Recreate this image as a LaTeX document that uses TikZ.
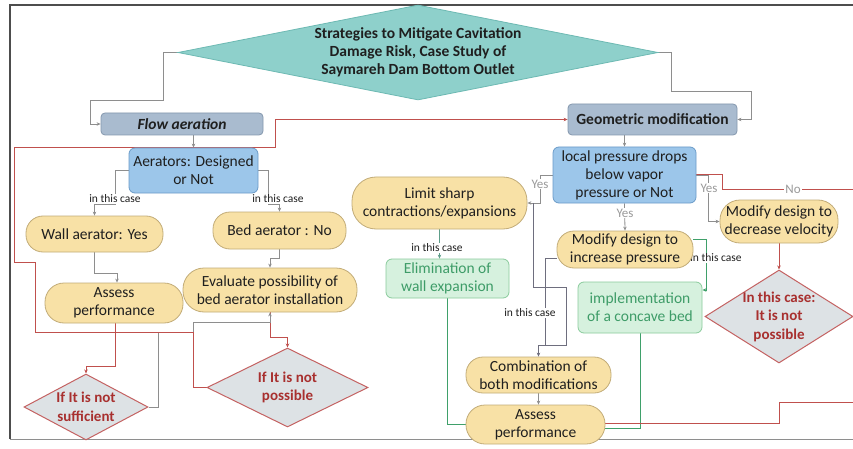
\documentclass[tikz,border=0pt]{standalone}
\usepackage{fontspec}
\setmainfont{Carlito}
\usetikzlibrary{shapes.geometric,arrows.meta}
\definecolor{tdf}{HTML}{8ED0CB}
\definecolor{tdd}{HTML}{6DB9B3}
\definecolor{gbf}{HTML}{A9BBCF}
\definecolor{gbd}{HTML}{8497AE}
\definecolor{bbf}{HTML}{9CC6EA}
\definecolor{bbd}{HTML}{6B9BC8}
\definecolor{ybf}{HTML}{F8E1A6}
\definecolor{ybd}{HTML}{C2AC78}
\definecolor{grf}{HTML}{D6F1DE}
\definecolor{grd}{HTML}{8ACB9C}
\definecolor{grt}{HTML}{3E9C68}
\definecolor{rdf}{HTML}{DDE2E5}
\definecolor{rdd}{HTML}{C46262}
\definecolor{rdt}{HTML}{A8302F}
\definecolor{lgray}{HTML}{8E8E8E}
\definecolor{lred}{HTML}{C0504D}
\definecolor{lgreen}{HTML}{3FA06A}
\definecolor{lpurp}{HTML}{6E6E7E}
\definecolor{lteal}{HTML}{5E9E8A}
\definecolor{framec}{HTML}{4D4D4D}
\definecolor{txt}{HTML}{1F1F1F}
\definecolor{ygray}{HTML}{9A9A9A}
\pgfdeclarelayer{back}
\pgfdeclarelayer{bg}
\pgfsetlayers{back,bg,main}
\tikzset{
  base/.style={align=center, inner sep=0.5pt, text=txt, font=\fontsize{15.5}{18}\selectfont},
  gbox/.style={base, rectangle, rounded corners=4pt, draw=gbd, fill=gbf, line width=0.8pt, font=\fontsize{15.5}{18}\selectfont\bfseries},
  bbox/.style={base, rectangle, rounded corners=6pt, draw=bbd, fill=bbf, line width=0.8pt},
  ybox/.style={base, rectangle, rounded corners=17pt, draw=ybd, fill=ybf, line width=0.8pt},
  grbox/.style={base, rectangle, rounded corners=6pt, draw=grd, fill=grf, text=grt, line width=0.8pt},
  tdia/.style={diamond, draw=tdd, fill=tdf, line width=0.8pt, inner sep=0pt},
  ttxt/.style={align=center, text=txt, font=\fontsize{15.5}{18}\selectfont\bfseries},
  rdia/.style={diamond, draw=rdd, fill=rdf, line width=1pt, inner sep=0pt},
  rtxt/.style={align=center, text=rdt, font=\fontsize{15}{18.5}\selectfont\bfseries},
  con/.style={draw=lgray, line width=0.8pt},
  pcon/.style={draw=lpurp, line width=0.8pt},
  tcon/.style={draw=lteal, line width=0.8pt},
  rcon/.style={draw=lred, line width=0.9pt},
  gcon/.style={draw=lgreen, line width=0.9pt},
  arr/.style={-{Stealth[length=4pt,width=3.5pt]}},
  case/.style={font=\fontsize{11.5}{13}\selectfont, fill=white, inner sep=0.5pt, text=txt},
  yes/.style={font=\fontsize{13}{14}\selectfont, fill=white, inner sep=1pt, text=ygray},
}
\begin{document}
\begin{tikzpicture}[x=1pt,y=-1pt]
\useasboundingbox (0,0) rectangle (853,449);
\begin{pgfonlayer}{back}
\fill[white] (0,0) rectangle (853,449);
\draw[framec, line width=1.3pt] (853,5) -- (10,5) -- (10,439);
\draw[lgray, line width=1pt] (10,439) -- (853,439);
\end{pgfonlayer}

% title
\node[tdia, minimum width=480pt, minimum height=95pt] (title) at (418,52.5) {};
\node[ttxt] (ttl) at (title.center) {Strategies to Mitigate Cavitation\\Damage Risk, Case Study of\\Saymareh Dam Bottom Outlet};

% boxes
\node[gbox, font=\fontsize{15.5}{18}\selectfont\bfseries\itshape, minimum width=162pt, minimum height=22pt] (fa) at (182,124) {Flow aeration};
\node[gbox, minimum width=169pt, minimum height=31pt] (gm) at (652.5,119.5) {Geometric modification};
\node[bbox, minimum width=129pt, minimum height=45pt] (aer) at (193.5,170.5) {Aerators: Designed\\or Not};
\node[bbox, minimum width=143pt, minimum height=56pt] (lp) at (624.5,175) {local pressure drops\\below vapor\\pressure or Not};
\node[ybox, minimum width=137pt, minimum height=36pt] (wall) at (94.5,234) {Wall aerator: Yes};
\node[ybox, minimum width=133pt, minimum height=37pt] (bed) at (279.5,230.5) {Bed aerator : No};
\node[ybox, minimum width=138pt, minimum height=40pt, rounded corners=19pt] (ap1) at (114,303) {Assess\\performance};
\node[ybox, minimum width=174pt, minimum height=44pt, rounded corners=21pt] (ev) at (270,290) {Evaluate possibility of\\bed aerator installation};
\node[ybox, minimum width=175pt, minimum height=52pt, rounded corners=24pt] (lim) at (439.5,203) {Limit sharp\\contractions/expansions};
\node[grbox, minimum width=123pt, minimum height=39pt] (elim) at (447.5,278.5) {Elimination of\\wall expansion};
\node[ybox, minimum width=136pt, minimum height=37pt] (mi) at (625,249.5) {Modify design to\\increase pressure};
\node[ybox, minimum width=118pt, minimum height=43pt, rounded corners=20pt] (md) at (779,221.5) {Modify design to\\decrease velocity};
\node[grbox, minimum width=124pt, minimum height=51pt] (impl) at (640,307.5) {implementation\\of a concave bed};
\node[ybox, minimum width=145pt, minimum height=36pt] (comb) at (538.5,375) {Combination of\\both modifications};
\node[ybox, minimum width=139pt, minimum height=39pt, rounded corners=19pt] (ap2) at (535.5,424.5) {Assess\\performance};

% diamonds
\node[rdia, minimum width=124pt, minimum height=66pt] (suf) at (86,407) {};
\node[rtxt] (suft) at (suf.center) {If It is not\\sufficient};
\node[rdia, minimum width=161pt, minimum height=79pt] (pos) at (287.5,387.5) {};
\node[rtxt] (post) at (pos.center) {If It is not\\possible};
\node[rdia, minimum width=148pt, minimum height=93pt] (itc) at (779,316.5) {};
\node[rtxt] (itct) at (itc.center) {In this case:\\It is not\\possible};

\coordinate (ya) at (533,203);
\coordinate (re1) at (853,189);
\coordinate (re2) at (853,402);

\begin{pgfonlayer}{bg}
% title connectors
\draw[con,arr] (title.west) -- (163,52.5) -- (163,100) -- (90,100) -- (90,124) -- (fa.west);
\draw[con,arr] (title.east) -- (671,52.5) -- (671,91) -- (751,91) -- (751,119.5) -- (gm.east);
\draw[con,arr] (aer.north |- fa.south) -- (aer.north);
\draw[con,arr] (lp.north |- gm.south) -- (lp.north);

% aerators
\draw[con,arr] (aer.west) -- (115,170.5) -- (115,204) -- (94.5,204) -- (wall.north);
\node[case] (c1) at (115,199) {in this case};
\draw[con,arr] (aer.east) -- (268,170.5) -- (268,204) -- (279.5,204) -- (bed.north);
\node[case] (c2) at (278,199) {in this case};
\draw[con,arr] (wall.south) -- (94.5,273) -| ([xshift=3pt]ap1.north);
\draw[con,arr] (bed.south) -- (279.5,258) -| (ev.north);

% red left
\draw[rcon,arr] ([xshift=1pt]ap1.south) -- (115,366) -| (suf.north);
\draw[rcon,arr] (ev.south) -- (270,337) -| (pos.north);
\draw[con,arr] (suf.east) -- (158,407) -- (158,332) -- (193,332) -- (193,322) -| (ev.south);
\draw[rcon,arr] (pos.west) -- (193,387.5) -- (193,332) -- (35,332) -- (35,262) -- (14,262) -- (14,147) -- (275,147) -- (275,119.5) -- (gm.west);

% right side
\draw[con,arr] (lp.west) -- (540,175) -- (540,203) -- (lim.east);
\node[yes] (y1) at (540,184) {Yes};
\draw[pcon,arr] (ya) -- (533,287) -- (566,287) -- (566,345) -- (538.5,345) -- (comb.north);
\draw[pcon] ([yshift=-8.5pt]mi.west) -- (545,258) -- (545,345);
\node[case] (c3) at (530,313) {in this case};
\draw[con,arr] (comb.south) -- (comb.south |- ap2.north);

\draw[tcon,arr] (lim.south) -- (lim.south |- elim.north);
\node[case] (c4) at (437,248) {in this case};
\draw[gcon] (elim.south) -- (447.5,424.5) -- (ap2.west);
\draw[gcon] (impl.south) -- (640,428) -- ([yshift=-3.5pt]ap2.east);
\draw[gcon,arr] ([yshift=10.5pt]mi.east) -- (706,239) -- (706,290) -- ([yshift=17.5pt]impl.east);
\node[case] (c5) at (716,258) {in this case};

\draw[con,arr] (lp.east) -- (708,175) -- (708,221.5) -- (md.west);
\node[yes] (y3) at (709,188) {Yes};
\draw[rcon] ([yshift=1pt]lp.east) -- (722,174) -- (722,189) -- (re1);
\node[yes] (no) at (793,189) {No};
\draw[con,arr] (lp.south) -- (mi.north);
\node[yes] (y2) at (625,213) {Yes};
\draw[rcon,arr] (md.south) -- (itc.north);
\draw[rcon] ([yshift=1.5pt]ap2.east) -- (779,423) -- (779,402) -- (re2);
\end{pgfonlayer}
\end{tikzpicture}
\end{document}
